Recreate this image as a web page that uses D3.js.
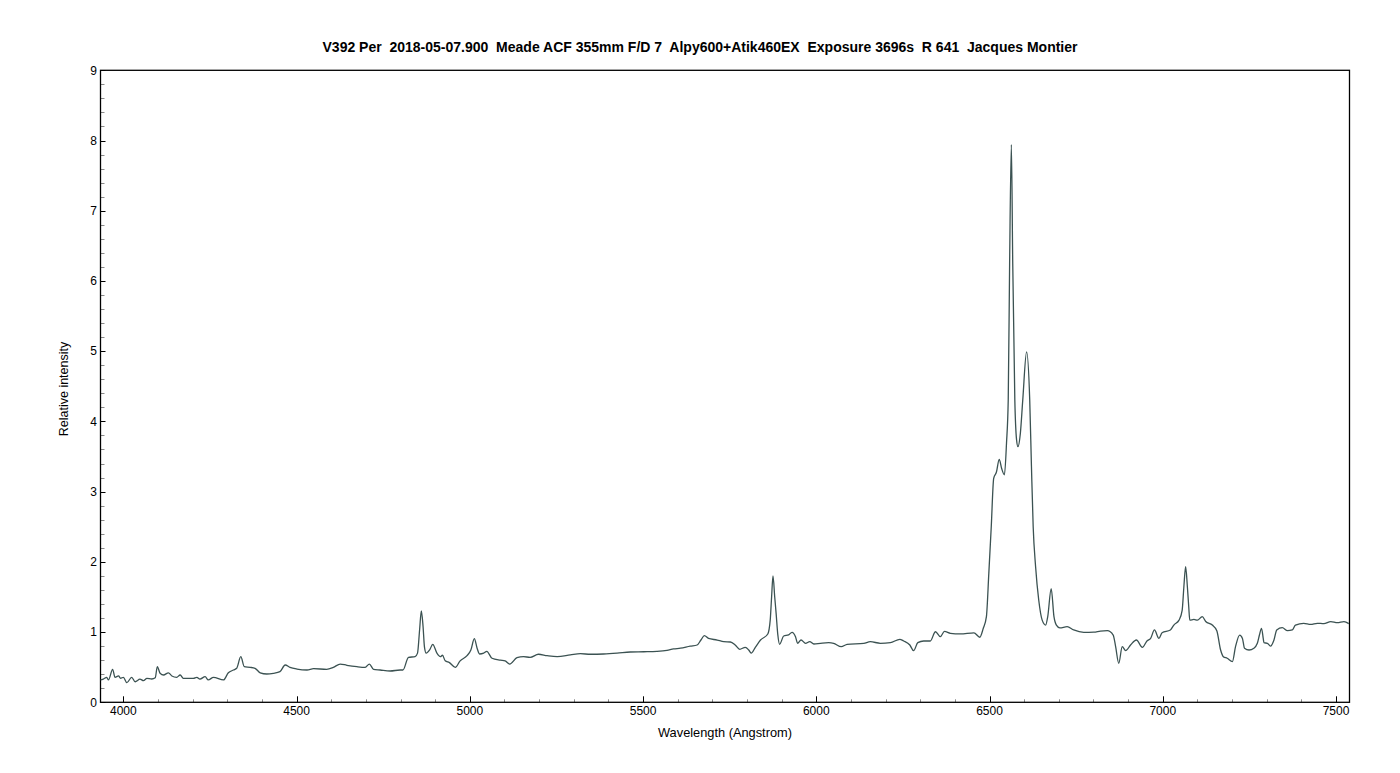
<!DOCTYPE html>
<html>
<head>
<meta charset="utf-8">
<script src="https://cdn.jsdelivr.net/npm/d3@7/dist/d3.min.js"></script>
<style>
  html, body { margin: 0; padding: 0; background: #fff; }
  svg { display: block; }
  text { font-family: "Liberation Sans", Arial, sans-serif; }
</style>
</head>
<body>
<script>
const titleText = "V392 Per  2018-05-07.900  Meade ACF 355mm F/D 7  Alpy600+Atik460EX  Exposure 3696s  R 641  Jacques Montier";
const xLabel = "Wavelength (Angstrom)";
const yLabel = "Relative intensity";

const xMajorTicks = [4000, 4500, 5000, 5500, 6000, 6500, 7000, 7500];
const yMajorTicks = [0, 1, 2, 3, 4, 5, 6, 7, 8, 9];

const wavelength = [
3933,3942,3952,3957,3969,3976,3986,3992,4000,4010,4024,4034,4048,4058,4068,4082,4092,4098,4106,4116,
4130,4140,4154,4164,4173,4202,4212,4221,4236,4245,4260,4289,4303,4318,4327,4339,4349,4366,4380,4395,
4414,4433,4452,4467,4481,4501,4530,4549,4587,4606,4626,4645,4674,4698,4710,4722,4741,4770,4799,4807,
4823,4842,4849,4855,4860,4865,4869,4874,4884,4893,4905,4915,4921,4929,4941,4958,4972,4992,5003,5013,
5021,5028,5040,5049,5064,5088,5102,5115,5136,5155,5174,5198,5223,5252,5290,5319,5348,5386,5425,5463,
5502,5540,5569,5588,5608,5636,5656,5667,5677,5689,5714,5733,5752,5766,5779,5795,5805,5812,5824,5839,
5860,5867,5871,5875,5880,5884,5889,5894,5906,5920,5930,5940,5946,5956,5969,5981,5993,6012,6036,6050,
6072,6089,6137,6156,6185,6214,6241,6252,6270,6281,6293,6310,6329,6344,6358,6370,6387,6416,6455,6472,
6482,6491,6498,6505,6512,6520,6528,6535,6543,6549,6554,6558,6563,6567,6573,6578,6582,6589,6596,6607,
6616,6621,6626,6633,6642,6652,6662,6668,6678,6686,6693,6703,6724,6743,6772,6801,6820,6840,6857,6864,
6873,6883,6893,6907,6924,6941,6955,6965,6976,6989,6998,7022,7032,7047,7056,7061,7066,7071,7075,7078,
7090,7100,7114,7124,7143,7156,7167,7175,7186,7201,7210,7222,7230,7236,7249,7263,7273,7279,7285,7290,
7292,7302,7311,7321,7329,7345,7360,7374,7383,7407,7427,7446,7465,7485,7504,7523,7537
];

const intensity = [
0.318,0.33,0.356,0.318,0.47,0.356,0.375,0.342,0.356,0.28,0.356,0.293,0.33,0.308,0.342,0.332,0.35,0.507,0.413,0.389,
0.42,0.375,0.356,0.389,0.342,0.342,0.356,0.33,0.365,0.318,0.356,0.318,0.42,0.46,0.484,0.65,0.507,0.498,0.484,0.42,
0.403,0.413,0.436,0.531,0.498,0.474,0.46,0.479,0.47,0.498,0.545,0.527,0.507,0.498,0.545,0.47,0.46,0.446,0.46,0.46,
0.64,0.65,0.70,1.03,1.30,1.08,0.79,0.70,0.745,0.826,0.70,0.65,0.67,0.59,0.565,0.498,0.59,0.664,0.745,0.906,
0.77,0.688,0.70,0.726,0.627,0.60,0.59,0.545,0.635,0.65,0.64,0.684,0.664,0.65,0.674,0.692,0.684,0.688,0.70,0.716,
0.72,0.726,0.74,0.76,0.77,0.80,0.816,0.887,0.95,0.91,0.887,0.863,0.859,0.816,0.755,0.783,0.745,0.70,0.783,0.887,
0.973,1.17,1.50,1.80,1.50,1.27,0.96,0.826,0.944,0.96,0.997,0.934,0.84,0.887,0.84,0.863,0.83,0.84,0.849,0.84,
0.792,0.826,0.84,0.863,0.84,0.849,0.897,0.873,0.816,0.735,0.849,0.873,0.873,1.005,0.934,1.01,0.983,0.973,0.99,0.926,
1.054,1.22,1.84,2.50,3.19,3.28,3.46,3.33,3.24,3.69,4.31,6.25,7.94,6.25,4.31,3.74,3.64,3.83,4.31,4.99,
4.31,3.36,2.50,1.93,1.457,1.17,1.10,1.22,1.62,1.22,1.10,1.06,1.077,1.03,0.997,1.00,1.015,1.02,0.958,0.792,
0.555,0.792,0.735,0.816,0.887,0.783,0.877,0.91,1.03,0.91,0.991,1.03,1.10,1.17,1.31,1.65,1.93,1.65,1.36,1.17,
1.18,1.17,1.22,1.15,1.10,1.02,0.745,0.65,0.627,0.58,0.792,0.958,0.91,0.77,0.745,0.77,0.84,0.958,1.054,0.91,
0.849,0.84,0.80,0.887,1.03,1.063,1.02,1.03,1.10,1.125,1.11,1.125,1.12,1.15,1.135,1.15,1.12
];

const W = 1400, H = 773;
const plot = { left: 100.5, right: 1349.5, top: 70.3, bottom: 702.3 };

const svg = d3.select("body").append("svg").attr("width", W).attr("height", H);

const x = d3.scaleLinear().domain([3934, 7539]).range([plot.left, plot.right]);
const y = d3.scaleLinear().domain([0, 9]).range([plot.bottom, plot.top]);

svg.append("defs").append("clipPath").attr("id", "clip")
  .append("rect").attr("x", plot.left).attr("y", plot.top)
  .attr("width", plot.right - plot.left).attr("height", plot.bottom - plot.top);

const xMinor = d3.range(4000, 7540, 100).filter(v => xMajorTicks.indexOf(v) < 0);
const yMinor = d3.range(0, 9.001, 0.2).map(v => +v.toFixed(1)).filter(v => Math.abs(v - Math.round(v)) > 1e-6);

const g = svg.append("g");
g.selectAll(".xminor").data(xMinor).enter().append("line")
  .attr("x1", d => Math.round(x(d)) + 0.5).attr("x2", d => Math.round(x(d)) + 0.5)
  .attr("y1", plot.bottom).attr("y2", plot.bottom - 3)
  .attr("stroke", "#8a8a8a").attr("stroke-width", 1);
g.selectAll(".xmajor").data(xMajorTicks).enter().append("line")
  .attr("x1", d => Math.round(x(d)) + 0.5).attr("x2", d => Math.round(x(d)) + 0.5)
  .attr("y1", plot.bottom).attr("y2", plot.bottom - 6)
  .attr("stroke", "#000").attr("stroke-width", 1);
g.selectAll(".yminor").data(yMinor).enter().append("line")
  .attr("x1", plot.left).attr("x2", plot.left + 4)
  .attr("y1", d => Math.round(y(d)) + 0.5).attr("y2", d => Math.round(y(d)) + 0.5)
  .attr("stroke", "#8a8a8a").attr("stroke-width", 1);
g.selectAll(".ymajor").data(yMajorTicks).enter().append("line")
  .attr("x1", plot.left).attr("x2", plot.left + 5)
  .attr("y1", d => Math.round(y(d)) + 0.5).attr("y2", d => Math.round(y(d)) + 0.5)
  .attr("stroke", "#000").attr("stroke-width", 1);

svg.append("rect")
  .attr("x", plot.left).attr("y", plot.top)
  .attr("width", plot.right - plot.left).attr("height", plot.bottom - plot.top)
  .attr("fill", "none").attr("stroke", "#000").attr("stroke-width", 1.3);

svg.selectAll(".xl").data(xMajorTicks).enter().append("text")
  .attr("x", d => x(d)).attr("y", 715)
  .attr("text-anchor", "middle").attr("font-size", 12).attr("fill", "#000")
  .text(d => d);
svg.selectAll(".yl").data(yMajorTicks).enter().append("text")
  .attr("x", 97).attr("y", d => y(d) + 4.3)
  .attr("text-anchor", "end").attr("font-size", 12).attr("fill", "#000")
  .text(d => d);

const pts = wavelength.map((w, i) => [w, intensity[i]]);
svg.append("path").datum(pts)
  .attr("clip-path", "url(#clip)")
  .attr("fill", "none").attr("stroke", "#3b5252").attr("stroke-width", 1.3)
  .attr("stroke-linejoin", "round")
  .attr("d", d3.line().curve(d3.curveMonotoneX).x(d => x(d[0])).y(d => y(d[1])));

svg.append("text").attr("x", 700).attr("y", 52)
  .attr("text-anchor", "middle").attr("font-size", 14).attr("font-weight", "bold")
  .style("white-space", "pre").attr("xml:space", "preserve")
  .text(titleText);

svg.append("text").attr("x", 725).attr("y", 737)
  .attr("text-anchor", "middle").attr("font-size", 12.8).text(xLabel);
svg.append("text").attr("transform", "translate(68,389) rotate(-90)")
  .attr("text-anchor", "middle").attr("font-size", 12.5).text(yLabel);
</script>
</body>
</html>
